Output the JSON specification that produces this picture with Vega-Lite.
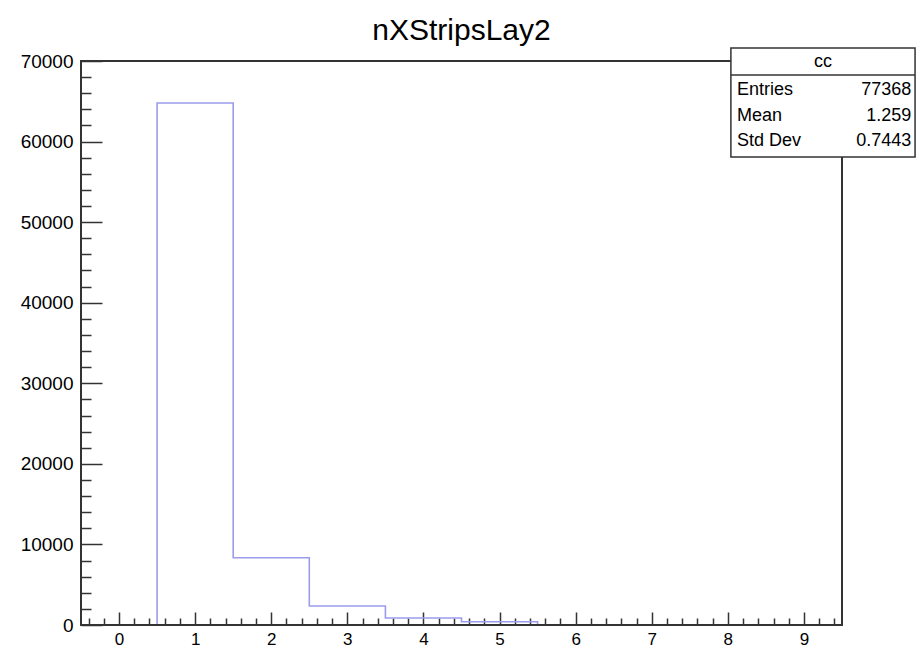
{
  "$schema": "https://vega.github.io/schema/vega-lite/v6.json",
  "width": 761,
  "height": 564,
  "autosize": {"type": "none"},
  "padding": {"left": 81, "top": 61, "right": 74, "bottom": 25},
  "background": "white",
  "config": {"view": {"stroke": null}, "font": "Liberation Sans"},
  "title": {"text": "nXStripsLay2", "fontSize": 30, "font": "Liberation Sans", "fontWeight": "normal", "color": "#000", "offset": 10, "dy": 33, "anchor": "middle", "baseline": "alphabetic"},
  "data": {"values": [
    {"low": -0.5, "count": 0},
    {"low": 0.5, "count": 64790},
    {"low": 1.5, "count": 8350},
    {"low": 2.5, "count": 2360},
    {"low": 3.5, "count": 870},
    {"low": 4.5, "count": 400},
    {"low": 5.5, "count": 0},
    {"low": 6.5, "count": 0},
    {"low": 7.5, "count": 0},
    {"low": 8.5, "count": 0},
    {"low": 9.5, "count": 0}
  ]},
  "layer": [
    {
      "mark": {"type": "line", "interpolate": "step-after", "stroke": "#9c9cec", "strokeWidth": 1.6},
      "encoding": {
        "x": {"field": "low", "type": "quantitative",
          "scale": {"domain": [-0.5, 9.5], "nice": false, "zero": false},
          "axis": {
            "values": [-0.4,-0.2,0,0.2,0.4,0.6,0.8,1,1.2,1.4,1.6,1.8,2,2.2,2.4,2.6,2.8,3,3.2,3.4,3.6,3.8,4,4.2,4.4,4.6,4.8,5,5.2,5.4,5.6,5.8,6,6.2,6.4,6.6,6.8,7,7.2,7.4,7.6,7.8,8,8.2,8.4,8.6,8.8,9,9.2,9.4],
            "tickCount": 200,
            "labelExpr": "abs(datum.value-round(datum.value))<0.01 ? format(datum.value,'d') : ''",
            "tickSize": {"condition": {"test": "abs(datum.value-round(datum.value))<0.01", "value": -13}, "value": -7},
            "tickColor": "#333", "tickWidth": 1.5, "domain": false, "grid": false, "title": null,
            "labelFontSize": 17, "labelColor": "#000", "labelPadding": 19, "labelFont": "Liberation Sans",
            "labelFlush": false, "labelOverlap": false, "labelBound": false
          }},
        "y": {"field": "count", "type": "quantitative",
          "scale": {"domain": [0, 70000], "nice": false, "zero": true},
          "axis": {
            "values": [0,2000,4000,6000,8000,10000,12000,14000,16000,18000,20000,22000,24000,26000,28000,30000,32000,34000,36000,38000,40000,42000,44000,46000,48000,50000,52000,54000,56000,58000,60000,62000,64000,66000,68000,70000],
            "tickCount": 200,
            "labelExpr": "datum.value % 10000 === 0 ? format(datum.value,'d') : ''",
            "tickSize": {"condition": {"test": "datum.value % 10000 === 0", "value": -21}, "value": -10},
            "tickColor": "#333", "tickWidth": 1.5, "domain": false, "grid": false, "title": null,
            "labelFontSize": 19, "labelColor": "#000", "labelPadding": 29, "labelFont": "Liberation Sans",
            "labelFlush": false, "labelOverlap": false, "labelBound": false
          }}
      }
    },
    {
      "data": {"values": [{}]},
      "mark": {"type": "rect", "filled": false, "color": "#333", "strokeWidth": 2},
      "encoding": {"x": {"datum": -0.5}, "x2": {"datum": 9.5}, "y": {"datum": 0}, "y2": {"datum": 70000}}
    },
    {
      "data": {"values": [{}]},
      "mark": {"type": "rect", "fill": "white", "stroke": "#333", "strokeWidth": 1.5, "clip": false},
      "encoding": {"x": {"datum": 8.04}, "x2": {"datum": 10.46}, "y": {"datum": 71612}, "y2": {"datum": 58083}}
    },
    {
      "data": {"values": [{}]},
      "mark": {"type": "rule", "color": "#333", "strokeWidth": 1.5, "clip": false},
      "encoding": {"x": {"datum": 8.04}, "x2": {"datum": 10.46}, "y": {"datum": 68260}}
    },
    {
      "data": {"values": [{}]},
      "mark": {"type": "text", "text": "cc", "align": "center", "baseline": "middle", "fontSize": 18, "font": "Liberation Sans", "color": "#000"},
      "encoding": {"x": {"datum": 9.25}, "y": {"datum": 69874}}
    },
    {
      "data": {"values": [{}]},
      "mark": {"type": "text", "text": "Entries", "align": "left", "baseline": "middle", "fontSize": 18, "font": "Liberation Sans", "color": "#000"},
      "encoding": {"x": {"datum": 8.12}, "y": {"datum": 66400}}
    },
    {
      "data": {"values": [{}]},
      "mark": {"type": "text", "text": "77368", "align": "right", "baseline": "middle", "fontSize": 18, "font": "Liberation Sans", "color": "#000"},
      "encoding": {"x": {"datum": 10.41}, "y": {"datum": 66400}}
    },
    {
      "data": {"values": [{}]},
      "mark": {"type": "text", "text": "Mean", "align": "left", "baseline": "middle", "fontSize": 18, "font": "Liberation Sans", "color": "#000"},
      "encoding": {"x": {"datum": 8.12}, "y": {"datum": 63172}}
    },
    {
      "data": {"values": [{}]},
      "mark": {"type": "text", "text": "1.259", "align": "right", "baseline": "middle", "fontSize": 18, "font": "Liberation Sans", "color": "#000"},
      "encoding": {"x": {"datum": 10.41}, "y": {"datum": 63172}}
    },
    {
      "data": {"values": [{}]},
      "mark": {"type": "text", "text": "Std Dev", "align": "left", "baseline": "middle", "fontSize": 18, "font": "Liberation Sans", "color": "#000"},
      "encoding": {"x": {"datum": 8.12}, "y": {"datum": 60069}}
    },
    {
      "data": {"values": [{}]},
      "mark": {"type": "text", "text": "0.7443", "align": "right", "baseline": "middle", "fontSize": 18, "font": "Liberation Sans", "color": "#000"},
      "encoding": {"x": {"datum": 10.41}, "y": {"datum": 60069}}
    }
  ]
}
